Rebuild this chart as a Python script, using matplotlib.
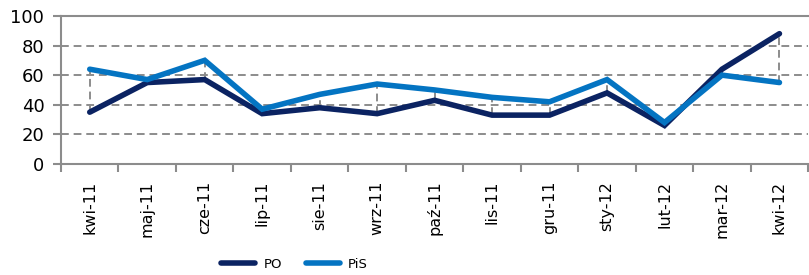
import numpy as np
import matplotlib.pyplot as plt

# Dane
months = ['kwi-11', 'maj-11', 'cze-11', 'lip-11', 'sie-11', 'wrz-11', 'paź-11',
          'lis-11', 'gru-11', 'sty-12', 'lut-12', 'mar-12', 'kwi-12']
po = [35, 55, 57, 34, 38, 34, 43, 33, 33, 48, 26, 64, 88]
pis = [64, 57, 70, 37, 47, 54, 50, 45, 42, 57, 28, 60, 55]

C_PO = '#0B2362'
C_PIS = '#0474C2'
GRID = '#8C8C8C'


def main():
    plt.rcParams['font.family'] = ['DejaVu Sans']
    fig = plt.figure(figsize=(8.09, 2.75), dpi=100)
    ax = fig.add_axes([0.0754, 0.4036, 0.9236, 0.5386])

    x = np.arange(len(months))

    # Linie max-min
    ax.vlines(x, np.minimum(po, pis), np.maximum(po, pis), colors=GRID,
              linestyles=(0, (4, 2.5)), linewidth=1.4, zorder=2)

    ax.plot(x, po, color=C_PO, lw=4, solid_capstyle='round',
            solid_joinstyle='miter', label='PO', zorder=3)
    ax.plot(x, pis, color=C_PIS, lw=4, solid_capstyle='round',
            solid_joinstyle='miter', label='PiS', zorder=4)

    ax.set_ylim(0, 100)
    ax.set_xlim(-0.5, len(months) - 0.5)
    ax.set_yticks(np.arange(0, 101, 20))
    ax.set_xticks(x)
    ax.set_xticklabels(months, rotation=90, fontsize=11.5)
    ax.set_xticks(np.arange(-0.5, len(months)), minor=True)
    ax.tick_params(axis='x', which='major', length=0, pad=12)
    ax.tick_params(axis='x', which='minor', length=6, width=1.5, color=GRID)
    ax.tick_params(axis='y', length=6, width=1.5, color=GRID, labelsize=13, pad=6)

    for y in [20, 40, 60, 80]:
        ax.axhline(y, color=GRID, lw=1.4, ls=(0, (4, 2.5)), zorder=1)
    ax.axhline(100, color=GRID, lw=1.5, zorder=1, clip_on=False)

    for s in ['top', 'right']:
        ax.spines[s].set_visible(False)
    for s in ['left', 'bottom']:
        ax.spines[s].set_color(GRID)
        ax.spines[s].set_linewidth(1.5)

    fig.legend(loc='center', bbox_to_anchor=(0.364, 0.04), ncol=2, frameon=False,
               fontsize=9.5, handlelength=2.6, columnspacing=1.8, handletextpad=0.6)

    fig.savefig('out.png', dpi=100)


if __name__ == "__main__":
    main()
